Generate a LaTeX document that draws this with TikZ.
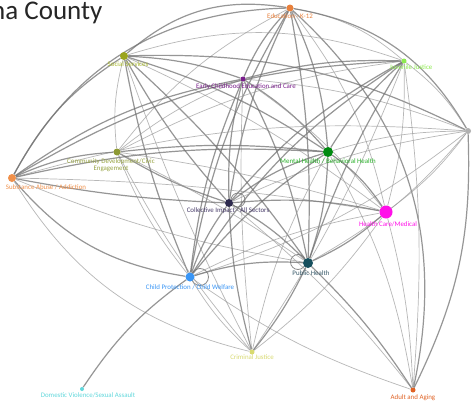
\documentclass[tikz,border=0pt]{standalone}
\usepackage{fontspec}
\setmainfont{Carlito}
\usetikzlibrary{backgrounds}
\definecolor{cEdu}{HTML}{E8803C}
\definecolor{cSoc}{HTML}{9AA41E}
\definecolor{cSocT}{HTML}{A8B82C}
\definecolor{cEce}{HTML}{7A1E8C}
\definecolor{cJj}{HTML}{8EEA50}
\definecolor{cRt}{HTML}{B0B0B0}
\definecolor{cCd}{HTML}{8E9A34}
\definecolor{cCdT}{HTML}{98A444}
\definecolor{cSa}{HTML}{F0904A}
\definecolor{cMh}{HTML}{008A10}
\definecolor{cMhT}{HTML}{28B028}
\definecolor{cCi}{HTML}{2E2A4E}
\definecolor{cCiT}{HTML}{483C6A}
\definecolor{cHc}{HTML}{FF10E8}
\definecolor{cCp}{HTML}{3A96F6}
\definecolor{cPh}{HTML}{17505E}
\definecolor{cPhT}{HTML}{365868}
\definecolor{cCj}{HTML}{D8DA70}
\definecolor{cDv}{HTML}{62D8DC}
\definecolor{cAa}{HTML}{E06224}
\tikzset{
  dot/.style={circle,inner sep=0pt,minimum size=#1},
  lbl/.style={font=\fontsize{6.9}{7.6}\selectfont,inner sep=0pt,align=center},
  ed/.style={draw=black!55,line width=1.2pt,opacity=.75},
  el/.style={draw=black!40,line width=.7pt,opacity=.7},
  ring/.style={draw=black!45,line width=.8pt}
}
\begin{document}
\begin{tikzpicture}[x=1pt,y=-1pt]
\useasboundingbox (0,0) rectangle (474,407);
\begin{scope}
\clip (0,0) rectangle (474,407);
\node[anchor=base west,inner sep=0pt,font=\fontsize{27}{29}\selectfont,text=black!85] (title) at (-9,19) {na County};
\end{scope}
% nodes
\node[dot=7pt,fill=cEdu] (edu) at (290,8) {};
\node[dot=8pt,fill=cSoc] (soc) at (124,56) {};
\node[dot=5pt,fill=cEce] (ece) at (243,79) {};
\node[dot=5pt,fill=cJj] (jj) at (404,61) {};
\node[dot=6pt,fill=cRt] (rt) at (468,131) {};
\node[dot=7pt,fill=cCd] (cd) at (117,152) {};
\node[dot=8pt,fill=cSa] (sa) at (12,178) {};
\node[dot=10pt,fill=cMh] (mh) at (328,152) {};
\node[dot=8pt,fill=cCi] (ci) at (229,203) {};
\node[dot=13pt,fill=cHc] (hc) at (386,212) {};
\node[dot=9pt,fill=cCp] (cp) at (190,277) {};
\node[dot=10pt,fill=cPh] (ph) at (308,263) {};
\node[dot=5pt,fill=cCj] (cj) at (252,352) {};
\node[dot=4pt,fill=cDv] (dv) at (82,389) {};
\node[dot=5pt,fill=cAa] (aa) at (413,390) {};
% labels
\node[lbl,text=cEdu] (edul) at (290,16) {Education - K-12};
\node[lbl,text=cSocT] (socl) at (128,64) {Social Services};
\node[lbl,text=cEce] (ecel) at (246,87) {Early Childhood Education and Care};
\node[lbl,text=cJj] (jjl) at (411,67) {Juvenile Justice};
\node[lbl,text=cCdT] (cdl) at (111,165) {Community Development/Civic\\Engagement};
\node[lbl,text=cSa] (sal) at (46,187) {Substance Abuse / Addiction};
\node[lbl,text=cMhT] (mhl) at (328,161) {Mental Health / Behavioral Health};
\node[lbl,text=cCiT] (cil) at (228,211) {Collective Impact - All Sectors};
\node[lbl,text=cHc] (hcl) at (388,224) {Health Care/Medical};
\node[lbl,text=cCp] (cpl) at (190,287) {Child Protection / Child Welfare};
\node[lbl,text=cPhT] (phl) at (311,273) {Public Health};
\node[lbl,text=cCj] (cjl) at (252,357) {Criminal Justice};
\node[lbl,text=cDv] (dvl) at (88,395) {Domestic Violence/Sexual Assault};
\node[lbl,text=cAa] (aal) at (413,398) {Adult and Aging};
\begin{scope}[on background layer]
\fill[white] (0,0) rectangle (474,407);
% self loops
\node[circle,ring,minimum size=14pt,inner sep=0pt] (loopci) at (238,200) {};
\node[circle,ring,minimum size=17pt,inner sep=0pt] (loopcp) at (200,277) {};
\node[circle,ring,minimum size=15pt,inner sep=0pt] (loopph) at (298,262) {};
% edges from education
\draw[ed] (edu) to[bend right=25] (soc);
\draw[el] (edu) to[bend left=15] (jj);
\draw[ed] (edu) to[bend left=25] (rt);
\draw[ed] (edu) to[bend right=30] (sa);
\draw[ed] (edu) to[bend right=10] (ece);
\draw[ed] (edu) to[bend left=10] (mh);
\draw[ed] (edu) to[bend right=8] (ci);
\draw[el] (edu) to[bend left=12] (hc);
\draw[ed] (edu) to[bend left=6] (ph);
\draw[ed] (edu) to[bend right=10] (cp);
\draw[ed] (edu) to[bend left=30] (aa);
\draw[el] (edu) to[bend right=12] (cd);
% social services
\draw[el] (soc) to[bend left=18] (jj);
\draw[ed] (soc) to[bend left=14] (rt);
\draw[ed] (soc) to[bend left=8] (ece);
\draw[ed] (soc) to[bend left=8] (mh);
\draw[ed] (soc) to[bend right=6] (ci);
\draw[ed] (soc) to[bend right=6] (cp);
\draw[ed] (soc) to[bend left=6] (ph);
\draw[el] (soc) to[bend right=4] (cj);
\draw[ed] (soc) to[bend right=14] (sa);
\draw[el] (soc) to[bend left=6] (hc);
\draw[el] (soc) to[bend right=10] (cd);
% early childhood
\draw[ed] (ece) to[bend left=8] (jj);
\draw[ed] (ece) to[bend left=8] (mh);
\draw[ed] (ece) to[bend right=8] (ci);
\draw[ed] (ece) to[bend right=8] (cp);
\draw[ed] (ece) to[bend left=8] (ph);
\draw[el] (ece) to[bend left=8] (hc);
\draw[ed] (ece) to[bend right=12] (sa);
\draw[el] (ece) to[bend left=8] (rt);
\draw[el] (ece) to[bend right=8] (cd);
\draw[el] (ece) to[bend right=4] (cj);
% juvenile justice
\draw[ed] (jj) to[bend right=8] (mh);
\draw[ed] (jj) to[bend right=10] (ci);
\draw[el] (jj) to[bend left=8] (hc);
\draw[ed] (jj) to[bend right=6] (ph);
\draw[ed] (jj) to[bend right=12] (cp);
\draw[el] (jj) to[bend left=10] (rt);
\draw[ed] (jj) to[bend right=14] (sa);
\draw[el] (jj) to[bend right=10] (cd);
\draw[el] (jj) to[bend left=6] (aa);
\draw[el] (jj) to[bend left=6] (cj);
% right node
\draw[el] (rt) to[bend right=8] (mh);
\draw[el] (rt) to[bend left=8] (hc);
\draw[el] (rt) to[bend left=10] (ph);
\draw[el] (rt) to[bend right=8] (ci);
\draw[el] (rt) to[bend right=10] (sa);
\draw[ed] (rt) to[bend left=14] (aa);
\draw[el] (rt) to[bend left=10] (cp);
% community development
\draw[ed] (cd) to[bend left=6] (mh);
\draw[ed] (cd) to[bend right=6] (ci);
\draw[el] (cd) to[bend right=8] (cp);
\draw[ed] (cd) to[bend right=10] (sa);
\draw[el] (cd) to[bend left=4] (ph);
\draw[el] (cd) to[bend left=4] (hc);
\draw[el] (cd) to[bend right=6] (cj);
% substance abuse
\draw[ed] (sa) to[bend left=8] (mh);
\draw[ed] (sa) to[bend right=4] (ci);
\draw[ed] (sa) to[bend right=20] (cp);
\draw[el] (sa) to[bend left=4] (hc);
\draw[el] (sa) to[bend right=6] (ph);
\draw[el] (sa) to[bend right=22] (cj);
% mental health
\draw[ed] (mh) to[bend right=10] (ci);
\draw[ed] (mh) to[bend left=10] (hc);
\draw[ed] (mh) to[bend left=8] (ph);
\draw[ed] (mh) to[bend right=8] (cp);
\draw[el] (mh) to[bend left=10] (aa);
\draw[el] (mh) to[bend right=8] (cj);
% collective impact
\draw[ed] (ci) to[bend left=8] (hc);
\draw[ed] (ci) to[bend right=8] (cp);
\draw[ed] (ci) to[bend left=8] (ph);
\draw[ed] (ci) to[bend right=6] (cj);
\draw[el] (ci) to[bend left=6] (aa);
% health care
\draw[ed] (hc) to[bend left=8] (ph);
\draw[el] (hc) to[bend right=8] (cp);
\draw[el] (hc) to[bend left=6] (aa);
\draw[el] (hc) to[bend left=8] (cj);
% child protection
\draw[ed] (cp) to[bend left=10] (ph);
\draw[el] (cp) to[bend right=8] (cj);
\draw[ed] (cp) to[bend right=10] (dv);
\draw[el] (cp) to[bend right=8] (aa);
% public health
\draw[ed] (ph) to[bend left=6] (cj);
\draw[ed] (ph) to[bend left=6] (aa);
\end{scope}
\end{tikzpicture}
\end{document}
